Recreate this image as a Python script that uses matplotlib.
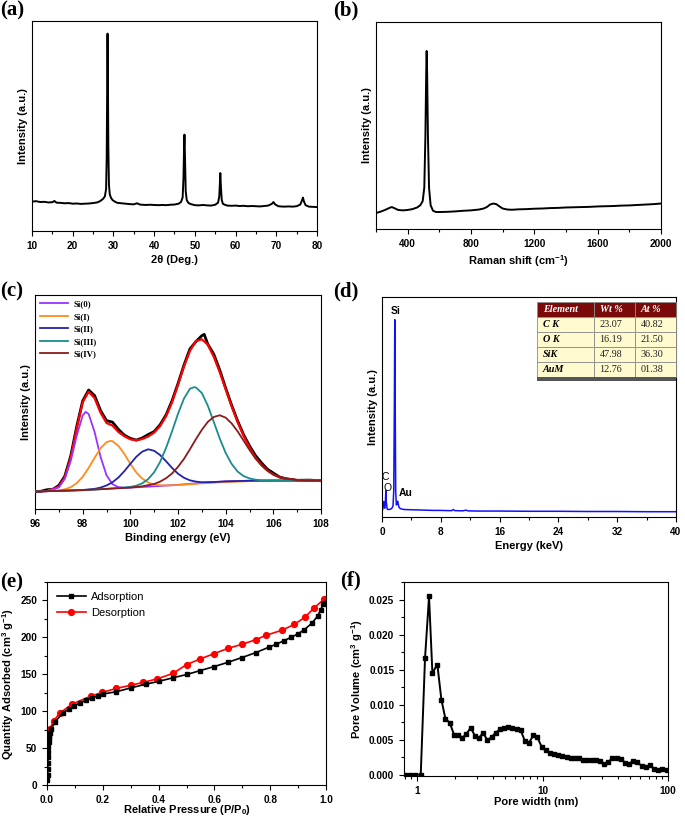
import matplotlib
matplotlib.use("Agg")
import matplotlib.pyplot as plt
from matplotlib.patches import Rectangle
from matplotlib.ticker import MultipleLocator, NullLocator, LogLocator, NullFormatter, FuncFormatter

plt.rcParams['font.family'] = ['Liberation Sans', 'DejaVu Sans']
plt.rcParams['font.weight'] = 'bold'
plt.rcParams['mathtext.fontset'] = 'custom'
plt.rcParams['mathtext.rm'] = 'Liberation Sans:bold'
plt.rcParams['mathtext.it'] = 'Liberation Sans:bold'
plt.rcParams['mathtext.bf'] = 'Liberation Sans:bold'
plt.rcParams['mathtext.default'] = 'rm'
plt.rcParams['axes.linewidth'] = 0.8

# ---------------- (a) XRD ----------------
xrd_2theta = [10, 11, 12, 13, 14, 15, 15.5, 16, 17, 18, 19, 20, 21, 22, 23, 24, 25, 26, 26.5, 27, 27.5, 27.9,
              28.2, 28.35, 28.45, 28.55, 28.65, 28.75, 28.9, 29.1, 29.4, 29.8, 30.5, 31, 32, 33, 34, 35, 35.8,
              36.5, 37, 38, 39, 40, 41, 42, 43, 44, 45, 46, 46.6, 47.0, 47.2, 47.35, 47.45, 47.6, 47.75, 48.0,
              48.4, 49, 50, 51, 52, 53, 54, 55, 55.7, 56.0, 56.15, 56.25, 56.4, 56.6, 56.9, 57.5, 58, 59, 60,
              61, 62, 63, 64, 65, 66, 67, 68, 68.9, 69.3, 69.7, 70.5, 71, 72, 73, 74, 75, 75.9, 76.3, 76.55,
              76.8, 77.2, 78, 79, 80]
xrd_int = [14.0, 14.2, 13.8, 13.9, 13.6, 13.7, 14.3, 13.5, 13.4, 13.2, 13.3, 13.0, 13.1, 12.9, 13.0, 13.1, 13.3,
           13.6, 14.0, 14.6, 15.4, 16.5, 20.0, 35.0, 65.0, 94.0, 70.0, 40.0, 22.0, 17.5, 15.8, 14.7, 13.8, 13.4,
           13.2, 13.0, 12.8, 12.7, 13.2, 12.6, 12.5, 12.4, 12.5, 12.4, 12.3, 12.4, 12.3, 12.5, 12.6, 13.0, 13.8,
           16.0, 25.0, 40.0, 45.9, 33.0, 19.0, 14.8, 13.4, 12.8, 12.3, 12.2, 12.4, 12.2, 12.1, 12.5, 13.5, 16.5,
           23.0, 27.6, 21.0, 14.8, 12.9, 12.4, 12.1, 12.0, 12.1, 11.9, 12.0, 11.8, 11.9, 11.8, 11.7, 11.9, 12.1,
           12.9, 13.8, 12.7, 11.8, 11.7, 11.6, 11.7, 11.6, 11.8, 12.6, 14.5, 15.9, 14.0, 12.3, 11.6, 11.5, 11.4]

# ---------------- (b) Raman ----------------
raman_shift = [200, 230, 260, 285, 300, 315, 340, 370, 400, 430, 460, 480, 495, 505, 512, 517, 520, 523, 528, 535,
               545, 560, 580, 600, 650, 700, 750, 800, 850, 880, 900, 920, 940, 960, 980, 1000, 1030, 1060, 1100,
               1150, 1200, 1250, 1300, 1350, 1400, 1450, 1500, 1550, 1600, 1650, 1700, 1750, 1800, 1850, 1900,
               1950, 2000]
raman_int = [7.7, 8.4, 9.3, 10.2, 10.6, 10.1, 9.2, 9.0, 9.2, 9.6, 10.4, 11.5, 13.5, 20.0, 45.0, 75.0, 86.0, 75.0,
             45.0, 20.0, 11.5, 8.8, 8.2, 8.2, 8.3, 8.5, 8.8, 9.0, 9.4, 9.9, 10.6, 11.8, 12.3, 12.0, 10.9, 9.9, 9.4,
             9.3, 9.5, 9.6, 9.8, 9.9, 10.1, 10.2, 10.4, 10.5, 10.6, 10.7, 10.9, 11.0, 11.1, 11.3, 11.4, 11.6, 11.8,
             12.0, 12.3]

# ---------------- (c) XPS Si 2p ----------------
xps_raw_be = [96.0, 96.25, 96.5, 96.75, 97.0, 97.25, 97.5, 97.75, 98.0, 98.25, 98.5, 98.75, 99.0, 99.25, 99.5,
              99.75, 100.0, 100.25, 100.5, 100.75, 101.0, 101.25, 101.5, 101.75, 102.0, 102.25, 102.5, 102.75,
              103.0, 103.1, 103.25, 103.5, 103.75, 104.0, 104.25, 104.5, 104.75, 105.0, 105.25, 105.5, 105.75,
              106.0, 106.25, 106.5, 107.0, 107.5, 108.0]
xps_raw = [8.0, 8.3, 9.0, 9.2, 11.0, 15.3, 24.8, 38.5, 50.5, 55.6, 53.0, 46.0, 41.3, 40.6, 37.2, 34.5, 33.0, 32.2,
           33.2, 34.8, 36.2, 39.4, 44.0, 50.6, 58.6, 67.2, 74.8, 78.2, 81.0, 81.6, 77.0, 72.4, 65.0, 56.5, 48.5,
           41.2, 34.8, 29.5, 25.0, 21.6, 18.6, 16.8, 15.0, 14.2, 13.4, 13.5, 13.2]
xps_fit_be = [96.0, 96.5, 97.0, 97.25, 97.5, 97.75, 98.0, 98.25, 98.5, 98.75, 99.0, 99.25, 99.5, 99.75, 100.0,
              100.25, 100.5, 100.75, 101.0, 101.25, 101.5, 101.75, 102.0, 102.25, 102.5, 102.75, 103.0, 103.25,
              103.5, 103.75, 104.0, 104.25, 104.5, 104.75, 105.0, 105.25, 105.5, 105.75, 106.0, 106.25, 106.5,
              107.0, 107.5, 108.0]
xps_fit = [8.2, 8.4, 10.4, 14.8, 24.1, 37.6, 49.9, 54.8, 51.8, 45.0, 40.2, 39.0, 36.0, 34.0, 32.6, 32.1, 32.7, 33.9,
           35.7, 38.8, 43.4, 49.9, 58.1, 66.6, 73.9, 78.5, 79.3, 76.8, 71.1, 64.0, 56.0, 48.0, 40.7, 34.2, 28.7,
           24.0, 20.6, 18.0, 16.1, 14.9, 14.2, 13.5, 13.35, 13.3]
si0_be = [96.0, 96.5, 97.0, 97.25, 97.5, 97.75, 98.0, 98.125, 98.25, 98.5, 98.75, 99.0, 99.25, 99.5, 99.75, 100.0,
          101.0, 102.0, 103.0, 104.0, 105.0, 106.0, 108.0]
si0 = [8.2, 8.4, 10.1, 14.1, 22.5, 34.2, 43.7, 45.4, 44.4, 36.0, 24.4, 15.8, 11.6, 10.2, 9.9, 10.0, 10.6, 11.3,
       12.2, 12.9, 13.2, 13.3, 13.3]
si1_be = [96.0, 97.0, 97.25, 97.5, 97.75, 98.0, 98.25, 98.5, 98.75, 99.0, 99.15, 99.25, 99.5, 99.75, 100.0,
          100.25, 100.5, 100.75, 101.0, 101.25, 101.5, 102.0, 103.0, 104.0, 105.0, 106.0, 108.0]
si1 = [8.2, 8.7, 9.2, 10.2, 12.1, 15.0, 19.2, 23.9, 28.4, 31.2, 31.8, 31.7, 29.5, 25.7, 21.1, 17.1, 14.2, 12.4,
       11.4, 11.1, 11.0, 11.2, 12.0, 12.6, 13.0, 13.2, 13.3]
si2_be = [96.0, 97.0, 98.0, 98.5, 98.75, 99.0, 99.25, 99.5, 99.75, 100.0, 100.25, 100.5, 100.75, 101.0, 101.25,
          101.5, 101.75, 102.0, 102.25, 102.5, 102.75, 103.0, 103.5, 104.0, 105.0, 106.0, 108.0]
si2 = [8.2, 8.4, 8.9, 9.4, 10.0, 11.0, 12.5, 14.7, 17.7, 21.1, 24.4, 26.8, 27.9, 27.2, 25.2, 22.3, 19.2, 16.5, 14.6,
       13.4, 12.8, 12.5, 12.6, 12.9, 13.2, 13.3, 13.3]
si3_be = [96.0, 98.0, 99.0, 100.0, 100.25, 100.5, 100.75, 101.0, 101.25, 101.5, 101.75, 102.0, 102.25, 102.5,
          102.67, 102.75, 103.0, 103.25, 103.5, 103.75, 104.0, 104.25, 104.5, 104.75, 105.0, 105.25, 105.5, 106.0,
          108.0]
si3 = [8.2, 8.8, 9.4, 10.3, 10.9, 12.0, 14.0, 17.2, 22.0, 28.6, 36.3, 44.5, 51.6, 56.2, 56.9, 56.8, 54.2, 48.3,
       40.7, 33.0, 26.2, 21.1, 17.5, 15.4, 14.3, 13.7, 13.4, 13.3, 13.3]
si4_be = [96.0, 98.0, 100.0, 100.5, 101.0, 101.25, 101.5, 101.75, 102.0, 102.25, 102.5, 102.75, 103.0, 103.25,
          103.5, 103.75, 104.0, 104.25, 104.5, 104.75, 105.0, 105.25, 105.5, 105.75, 106.0, 106.25, 106.5, 107.0,
          107.5, 108.0]
si4 = [8.2, 8.8, 10.0, 10.6, 11.7, 12.8, 14.4, 16.6, 19.7, 23.4, 27.9, 32.6, 37.0, 40.7, 43.0, 43.8, 42.7, 40.0,
       36.3, 32.0, 27.6, 23.6, 20.4, 17.9, 16.1, 14.9, 14.2, 13.5, 13.3, 13.3]
xps_labels = ['Si(0)', 'Si(I)', 'Si(II)', 'Si(III)', 'Si(IV)']
xps_colors = ['#9933FF', '#FF8C1A', '#2222AA', '#1A8C8C', '#8B1C1C']

# ---------------- (d) EDS ----------------
eds_energy = [0.0, 0.1, 0.18, 0.25, 0.3, 0.38, 0.45, 0.52, 0.58, 0.7, 0.9, 1.1, 1.3, 1.5, 1.6, 1.68, 1.74, 1.8,
              1.86, 1.95, 2.05, 2.12, 2.2, 2.3, 2.5, 3.0, 4.0, 5.0, 6.0, 7.0, 8.0, 9.0, 9.5, 9.7, 9.9, 11.0, 11.4,
              11.7, 13.0, 16.0, 20.0, 24.0, 28.0, 32.0, 36.0, 40.0]
eds_int = [2.5, 3.5, 6.5, 7.0, 4.5, 4.0, 6.0, 12.0, 7.0, 3.6, 3.4, 3.5, 3.8, 5.0, 12.0, 50.0, 89.7, 50.0, 12.0, 5.5,
           6.0, 7.2, 6.0, 4.5, 3.8, 3.4, 3.3, 3.2, 3.1, 3.0, 3.0, 2.9, 2.9, 3.4, 2.9, 2.8, 3.1, 2.8, 2.7, 2.7, 2.6,
           2.6, 2.5, 2.5, 2.4, 2.4]
eds_peak_labels = ['Si', 'C', 'O', 'Au']
eds_peak_x = [1.8, 0.45, 0.82, 3.2]
eds_peak_y = [93.5, 18.2, 13.2, 10.9]
table_header = ['Element', 'Wt %', 'At %']
table_elements = ['C K', 'O K', 'SiK', 'AuM']
table_wt = ['23.07', '16.19', '47.98', '12.76']
table_at = ['40.82', '21.50', '36.30', '01.38']

# ---------------- (e) N2 isotherm ----------------
ads_p = [0.0015, 0.002, 0.0025, 0.003, 0.0035, 0.004, 0.005, 0.006, 0.007, 0.008, 0.010, 0.015, 0.030, 0.057,
         0.078, 0.098, 0.119, 0.141, 0.161, 0.183, 0.200, 0.248, 0.302, 0.356, 0.400, 0.451, 0.501, 0.550, 0.600,
         0.650, 0.699, 0.749, 0.797, 0.821, 0.850, 0.875, 0.899, 0.922, 0.949, 0.970, 0.981, 0.990, 0.995]
ads_q = [7, 13, 22, 30, 38, 45, 52, 58, 63, 67, 71, 76, 85.9, 98.0, 102.5, 107.5, 111.5, 115.0, 118.3, 120.5, 123.2,
         126.3, 131.7, 136.7, 140.3, 145.2, 149.7, 155.1, 160.5, 166.4, 172.7, 179.4, 187.0, 190.6, 195.6, 200.1,
         204.6, 210.4, 219.0, 228.9, 237.4, 245.5, 247.0]
des_p = [0.993, 0.958, 0.925, 0.887, 0.841, 0.785, 0.749, 0.699, 0.650, 0.600, 0.550, 0.501, 0.451, 0.396, 0.344,
         0.302, 0.248, 0.198, 0.158, 0.090, 0.045, 0.024, 0.010]
des_q = [251.8, 240.1, 227.5, 217.6, 209.5, 202.8, 196.9, 190.6, 185.3, 178.1, 170.9, 163.2, 151.1, 143.9, 138.9,
         135.3, 130.8, 125.4, 120.5, 109.7, 97.1, 86.8, 76.0]

# ---------------- (f) pore size distribution ----------------
pore_w = [0.797, 0.874, 0.958, 1.07, 1.158, 1.246, 1.325, 1.452, 1.563, 1.682, 1.821, 1.972, 2.134, 2.297, 2.472,
          2.677, 2.899, 3.12, 3.357, 3.635, 3.936, 4.235, 4.585, 4.934, 5.344, 5.75, 6.224, 6.70, 7.254, 7.805,
          8.45, 9.10, 9.85, 10.6, 11.48, 12.35, 13.37, 14.4, 15.58, 16.77, 18.16, 19.54, 21.15, 22.76, 24.65,
          26.52, 28.72, 30.9, 33.46, 36.0, 39.0, 41.97, 45.44, 48.9, 52.96, 56.97, 61.7, 66.4, 71.9, 77.3, 83.7,
          90.1, 97.5]
pore_v = [0.0, 0.0, 0.0, 0.0, 0.01668, 0.02543, 0.01454, 0.01568, 0.0107, 0.00799, 0.00741, 0.0057, 0.0057,
          0.00528, 0.0058, 0.0067, 0.0055, 0.00523, 0.0060, 0.0049, 0.00537, 0.0060, 0.00646, 0.0067, 0.0068,
          0.0067, 0.00646, 0.00632, 0.00475, 0.00456, 0.0056, 0.00532, 0.00394, 0.00347, 0.00314, 0.0030,
          0.00285, 0.00266, 0.00252, 0.00242, 0.00242, 0.00238, 0.00214, 0.00204, 0.00214, 0.00214, 0.00195,
          0.00147, 0.00176, 0.00238, 0.00233, 0.00223, 0.00171, 0.00157, 0.00195, 0.00176, 0.00124, 0.00109,
          0.00133, 0.00086, 0.00071, 0.00086, 0.00062]

# ================= figure =================
W, H = 685, 818
fig = plt.figure(figsize=(W / 100, H / 100), dpi=100)


def ax_px(l, t, r, b):
    return fig.add_axes([l / W, 1 - b / H, (r - l) / W, (b - t) / H])


TICK_FS = 7.2
LAB_FS = 8


def style(ax, ylabel, xlabel):
    ax.tick_params(which='both', direction='out', width=0.8, labelsize=TICK_FS)
    ax.tick_params(which='major', length=3.5)
    ax.tick_params(which='minor', length=2)
    for lab in ax.get_xticklabels() + ax.get_yticklabels():
        lab.set_fontweight('bold')
    ax.set_xlabel(xlabel, fontsize=LAB_FS, fontweight='bold', labelpad=3)
    ax.set_ylabel(ylabel, fontsize=LAB_FS, fontweight='bold', labelpad=3)


def no_y(ax):
    ax.yaxis.set_major_locator(NullLocator())
    ax.yaxis.set_minor_locator(NullLocator())


# (a)
ax = ax_px(32, 21, 317, 231)
ax.plot(xrd_2theta, xrd_int, color='black', lw=1.4)
ax.set_xlim(10, 80)
ax.set_ylim(0, 100)
ax.xaxis.set_major_locator(MultipleLocator(10))
ax.xaxis.set_minor_locator(MultipleLocator(5))
no_y(ax)
style(ax, 'Intensity (a.u.)', '2θ (Deg.)')

# (b)
ax = ax_px(376, 22, 661, 229)
ax.plot(raman_shift, raman_int, color='black', lw=1.4)
ax.set_xlim(200, 2000)
ax.set_ylim(0, 100)
ax.set_xticks([400, 800, 1200, 1600, 2000])
ax.xaxis.set_minor_locator(MultipleLocator(200))
no_y(ax)
style(ax, 'Intensity (a.u.)', 'Raman shift (cm$^{-1}$)')

# (c)
ax = ax_px(35, 295, 321, 509)
ax.plot(xps_raw_be, xps_raw, color='black', lw=2.0, zorder=2)
ax.plot(xps_fit_be, xps_fit, color='#FF0000', lw=1.6, zorder=3)
comp_x = [si0_be, si1_be, si2_be, si3_be, si4_be]
comp_y = [si0, si1, si2, si3, si4]
for xs, ys, lab, col in zip(comp_x, comp_y, xps_labels, xps_colors):
    ax.plot(xs, ys, color=col, lw=1.3, label=lab, zorder=4)
ax.set_xlim(96, 108)
ax.set_ylim(0, 100)
ax.xaxis.set_major_locator(MultipleLocator(2))
ax.xaxis.set_minor_locator(MultipleLocator(1))
no_y(ax)
style(ax, 'Intensity (a.u.)', 'Binding energy (eV)')
ax.legend(loc='upper left', frameon=False, handlelength=3.2, handletextpad=0.6, labelspacing=0.5,
          borderaxespad=0.2, prop={'family': 'Liberation Serif', 'weight': 'bold', 'size': 6.3})

# (d)
ax = ax_px(382, 297, 676, 517)
ax.plot(eds_energy, eds_int, color='#1010FF', lw=1.1)
ax.set_xlim(0, 40)
ax.set_ylim(0, 100)
ax.xaxis.set_major_locator(MultipleLocator(8))
ax.xaxis.set_minor_locator(MultipleLocator(4))
no_y(ax)
style(ax, 'Intensity (a.u.)', 'Energy (keV)')
for t, x, y in zip(eds_peak_labels, eds_peak_x, eds_peak_y):
    ax.text(x, y, t, ha='center', va='center', fontsize=7.5, fontweight='bold' if t in ('Si', 'Au') else 'normal')
# table
tx0, ttop = 0.527, 0.977
col_w = [0.193, 0.140, 0.140]
row_h = 0.068
rows = [table_header] + [[e, w, a] for e, w, a in zip(table_elements, table_wt, table_at)]
for r, row in enumerate(rows):
    y0 = ttop - (r + 1) * row_h
    x = tx0
    for c, txt in enumerate(row):
        face = '#7A0A0A' if r == 0 else '#FFFBCF'
        ax.add_patch(Rectangle((x, y0), col_w[c], row_h, transform=ax.transAxes, facecolor=face,
                               edgecolor='#8a8a8a', lw=0.6, zorder=5, clip_on=False))
        if r == 0:
            kw = dict(color='white', fontweight='bold', fontstyle='italic')
        elif c == 0:
            kw = dict(color='black', fontweight='bold', fontstyle='italic')
        else:
            kw = dict(color='#222222', fontweight='normal')
        ax.text(x + 0.02, y0 + row_h / 2, txt, transform=ax.transAxes, ha='left', va='center',
                fontsize=7.3, family='Liberation Serif', zorder=6, **kw)
        x += col_w[c]
ax.add_patch(Rectangle((tx0, ttop - 5 * row_h - 0.018), sum(col_w), 0.018, transform=ax.transAxes,
                       facecolor='#555555', edgecolor='none', zorder=5))

# (e)
ax = ax_px(47, 582, 326, 785)
ax.plot(ads_p, ads_q, color='black', lw=1.2, marker='s', ms=3.3, label='Adsorption', zorder=3)
ax.plot(des_p, des_q, color='#FF0000', lw=1.2, marker='o', ms=4.2, label='Desorption', zorder=2)
ax.set_xlim(0, 1.0)
ax.set_ylim(0, 275)
ax.xaxis.set_major_locator(MultipleLocator(0.2))
ax.xaxis.set_minor_locator(MultipleLocator(0.1))
ax.yaxis.set_major_locator(MultipleLocator(50))
ax.yaxis.set_minor_locator(MultipleLocator(25))
ax.xaxis.set_major_formatter(FuncFormatter(lambda v, p: f'{v:.1f}'))
style(ax, 'Quantity Adsorbed (cm$^{3}$ g$^{-1}$)', 'Relative Pressure (P/P$_{0}$)')
ax.xaxis.labelpad = -1
ax.legend(loc='upper left', frameon=False, handlelength=2.6, handletextpad=0.5, labelspacing=0.5,
          borderaxespad=0.5, prop={'weight': 'normal', 'size': 8})

# (f)
ax = ax_px(404, 582, 668, 776)
ax.plot(pore_w, pore_v, color='black', lw=1.4, marker='s', ms=2.8)
ax.set_xscale('log')
ax.set_xlim(0.787, 100)
ax.set_ylim(-0.0002, 0.0275)
ax.xaxis.set_major_locator(LogLocator(base=10))
ax.xaxis.set_minor_locator(LogLocator(base=10, subs=[2, 3, 4, 5, 6, 7, 8, 9]))
ax.xaxis.set_minor_formatter(NullFormatter())
ax.xaxis.set_major_formatter(FuncFormatter(lambda v, p: f'{v:g}'))
ax.yaxis.set_major_locator(MultipleLocator(0.005))
ax.yaxis.set_minor_locator(MultipleLocator(0.0025))
ax.yaxis.set_major_formatter(FuncFormatter(lambda v, p: f'{v:.3f}'))
style(ax, 'Pore Volume (cm$^{3}$ g$^{-1}$)', 'Pore width (nm)')
ax.xaxis.labelpad = 1

# panel labels
for lab, x, y in [('(a)', 0, 0), ('(b)', 333, 0), ('(c)', 0, 281), ('(d)', 333, 281), ('(e)', 0, 572),
                  ('(f)', 340, 570)]:
    fig.text(x / W, 1 - y / H, lab, ha='left', va='top', fontsize=15, fontweight='bold',
             family='Liberation Serif')

fig.savefig('out.png', dpi=100)
